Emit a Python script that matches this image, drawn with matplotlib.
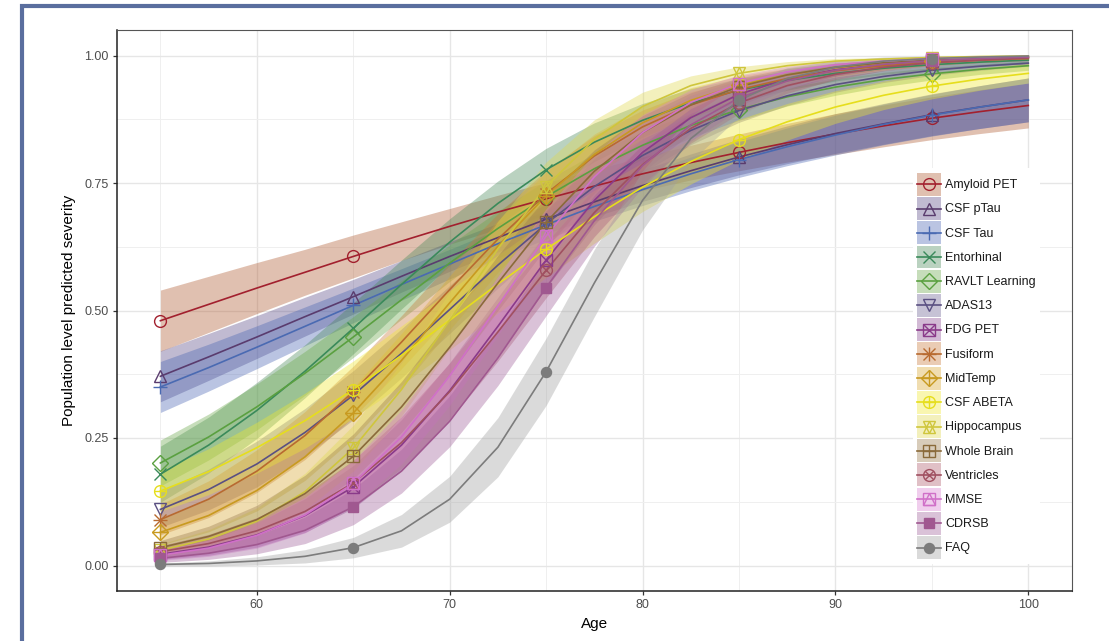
"""
plot.py -- population-level predicted severity of 16 biomarkers vs age,
with confidence ribbons (ggplot/theme_bw look).
"""
import numpy as np
import matplotlib
matplotlib.use("Agg")
import matplotlib.pyplot as plt
from matplotlib.lines import Line2D
from matplotlib.patches import Patch, Rectangle
from matplotlib.legend_handler import HandlerLine2D

plt.rcParams["font.family"] = ["Liberation Sans", "DejaVu Sans"]

W, H = 1109, 641

# ----------------------------------------------------------------------- data
AGES = [55, 57.5, 60, 62.5, 65, 67.5, 70, 72.5, 75, 77.5,
        80, 82.5, 85, 87.5, 90, 92.5, 95, 97.5, 100]
MARKER_AGES = [55, 65, 75, 85, 95]

BIOMARKERS = ["Amyloid PET", "CSF pTau", "CSF Tau", "Entorhinal", "RAVLT Learning",
              "ADAS13", "FDG PET", "Fusiform", "MidTemp", "CSF ABETA",
              "Hippocampus", "Whole Brain", "Ventricles", "MMSE", "CDRSB", "FAQ"]

SEVERITY = {
    "Amyloid PET":    [0.480, 0.512, 0.544, 0.575, 0.606, 0.636, 0.665, 0.693, 0.719, 0.744,
                       0.768, 0.790, 0.810, 0.829, 0.846, 0.862, 0.877, 0.890, 0.902],
    "CSF pTau":       [0.371, 0.409, 0.448, 0.488, 0.527, 0.567, 0.606, 0.643, 0.679, 0.713,
                       0.745, 0.774, 0.801, 0.825, 0.847, 0.866, 0.884, 0.899, 0.913],
    "CSF Tau":        [0.350, 0.388, 0.428, 0.469, 0.510, 0.551, 0.591, 0.631, 0.668, 0.704,
                       0.737, 0.768, 0.796, 0.821, 0.844, 0.865, 0.883, 0.899, 0.913],
    "Entorhinal":     [0.179, 0.236, 0.304, 0.381, 0.465, 0.551, 0.634, 0.710, 0.776, 0.830,
                       0.873, 0.907, 0.932, 0.951, 0.965, 0.975, 0.982, 0.987, 0.991],
    "RAVLT Learning": [0.201, 0.252, 0.311, 0.377, 0.448, 0.521, 0.593, 0.661, 0.723, 0.778,
                       0.824, 0.863, 0.894, 0.919, 0.938, 0.953, 0.964, 0.973, 0.980],
    "ADAS13":         [0.110, 0.149, 0.199, 0.261, 0.334, 0.416, 0.502, 0.589, 0.670, 0.743,
                       0.804, 0.853, 0.892, 0.921, 0.943, 0.959, 0.971, 0.979, 0.985],
    "FDG PET":        [0.022, 0.036, 0.060, 0.098, 0.154, 0.236, 0.343, 0.469, 0.599, 0.716,
                       0.810, 0.878, 0.924, 0.954, 0.972, 0.983, 0.990, 0.994, 0.996],
    "Fusiform":       [0.090, 0.130, 0.185, 0.255, 0.341, 0.438, 0.541, 0.640, 0.729, 0.803,
                       0.860, 0.903, 0.933, 0.955, 0.970, 0.980, 0.986, 0.991, 0.994],
    "MidTemp":        [0.065, 0.098, 0.147, 0.213, 0.299, 0.402, 0.515, 0.626, 0.725, 0.806,
                       0.868, 0.912, 0.942, 0.962, 0.976, 0.985, 0.990, 0.994, 0.996],
    "CSF ABETA":      [0.146, 0.184, 0.231, 0.284, 0.345, 0.412, 0.481, 0.552, 0.620, 0.684,
                       0.742, 0.792, 0.835, 0.870, 0.899, 0.922, 0.940, 0.954, 0.965],
    "Hippocampus":    [0.030, 0.052, 0.087, 0.145, 0.230, 0.345, 0.481, 0.621, 0.743, 0.836,
                       0.900, 0.941, 0.965, 0.980, 0.989, 0.993, 0.996, 0.998, 0.999],
    "Whole Brain":    [0.035, 0.057, 0.090, 0.141, 0.214, 0.311, 0.428, 0.554, 0.673, 0.773,
                       0.849, 0.903, 0.939, 0.962, 0.977, 0.986, 0.991, 0.995, 0.997],
    "Ventricles":     [0.027, 0.043, 0.068, 0.106, 0.162, 0.241, 0.341, 0.458, 0.579, 0.692,
                       0.786, 0.857, 0.907, 0.941, 0.963, 0.977, 0.986, 0.991, 0.995],
    "MMSE":           [0.020, 0.034, 0.059, 0.099, 0.161, 0.252, 0.372, 0.509, 0.646, 0.762,
                       0.849, 0.908, 0.945, 0.968, 0.982, 0.989, 0.994, 0.996, 0.998],
    "CDRSB":          [0.014, 0.024, 0.041, 0.069, 0.115, 0.185, 0.283, 0.407, 0.545, 0.676,
                       0.784, 0.864, 0.917, 0.950, 0.971, 0.983, 0.990, 0.994, 0.997],
    "FAQ":            [0.002, 0.004, 0.009, 0.018, 0.035, 0.068, 0.130, 0.232, 0.380, 0.554,
                       0.716, 0.837, 0.912, 0.955, 0.977, 0.989, 0.994, 0.997, 0.999],
}

# half-width of the confidence ribbon at each age
HALF_WIDTH = {
    "Amyloid PET":    [0.060, 0.055, 0.050, 0.045, 0.042, 0.038, 0.035, 0.033, 0.032, 0.032,
                       0.033, 0.034, 0.036, 0.038, 0.040, 0.041, 0.042, 0.043, 0.044],
    "CSF pTau":       [0.050, 0.046, 0.042, 0.038, 0.034, 0.031, 0.029, 0.028, 0.028, 0.029,
                       0.031, 0.033, 0.035, 0.037, 0.039, 0.040, 0.041, 0.042, 0.043],
    "CSF Tau":        [0.050, 0.046, 0.042, 0.038, 0.034, 0.031, 0.029, 0.028, 0.028, 0.029,
                       0.031, 0.033, 0.035, 0.037, 0.039, 0.040, 0.041, 0.042, 0.043],
    "Entorhinal":     [0.055, 0.055, 0.055, 0.052, 0.050, 0.048, 0.046, 0.044, 0.042, 0.038,
                       0.033, 0.028, 0.023, 0.019, 0.015, 0.012, 0.010, 0.008, 0.007],
    "RAVLT Learning": [0.045, 0.045, 0.045, 0.043, 0.040, 0.038, 0.036, 0.034, 0.032, 0.030,
                       0.027, 0.024, 0.021, 0.018, 0.016, 0.014, 0.012, 0.010, 0.009],
    "ADAS13":         [0.035, 0.040, 0.045, 0.047, 0.048, 0.048, 0.047, 0.045, 0.042, 0.038,
                       0.033, 0.028, 0.023, 0.019, 0.015, 0.012, 0.010, 0.008, 0.006],
    "FDG PET":        [0.010, 0.016, 0.024, 0.033, 0.042, 0.050, 0.055, 0.057, 0.055, 0.048,
                       0.039, 0.030, 0.022, 0.015, 0.010, 0.007, 0.005, 0.003, 0.002],
    "Fusiform":       [0.030, 0.036, 0.042, 0.047, 0.050, 0.052, 0.052, 0.050, 0.046, 0.040,
                       0.033, 0.026, 0.020, 0.015, 0.011, 0.008, 0.006, 0.005, 0.004],
    "MidTemp":        [0.025, 0.032, 0.040, 0.046, 0.050, 0.053, 0.053, 0.051, 0.047, 0.040,
                       0.032, 0.025, 0.018, 0.013, 0.009, 0.007, 0.005, 0.004, 0.003],
    "CSF ABETA":      [0.040, 0.045, 0.050, 0.054, 0.056, 0.058, 0.058, 0.057, 0.055, 0.052,
                       0.048, 0.044, 0.040, 0.036, 0.032, 0.028, 0.025, 0.022, 0.019],
    "Hippocampus":    [0.012, 0.018, 0.026, 0.036, 0.045, 0.052, 0.055, 0.054, 0.048, 0.038,
                       0.028, 0.019, 0.013, 0.008, 0.005, 0.003, 0.002, 0.001, 0.001],
    "Whole Brain":    [0.014, 0.020, 0.028, 0.036, 0.044, 0.050, 0.054, 0.054, 0.050, 0.042,
                       0.033, 0.024, 0.017, 0.012, 0.008, 0.005, 0.003, 0.002, 0.002],
    "Ventricles":     [0.012, 0.018, 0.026, 0.035, 0.044, 0.051, 0.056, 0.057, 0.054, 0.047,
                       0.038, 0.029, 0.021, 0.015, 0.010, 0.007, 0.005, 0.003, 0.002],
    "MMSE":           [0.010, 0.016, 0.025, 0.035, 0.045, 0.053, 0.058, 0.058, 0.054, 0.045,
                       0.035, 0.025, 0.017, 0.011, 0.007, 0.005, 0.003, 0.002, 0.001],
    "CDRSB":          [0.008, 0.012, 0.018, 0.026, 0.035, 0.043, 0.050, 0.054, 0.055, 0.050,
                       0.042, 0.032, 0.023, 0.016, 0.011, 0.007, 0.005, 0.003, 0.002],
    "FAQ":            [0.003, 0.005, 0.008, 0.013, 0.020, 0.032, 0.045, 0.058, 0.066, 0.066,
                       0.058, 0.045, 0.032, 0.021, 0.013, 0.008, 0.005, 0.003, 0.002],
}

# ----------------------------------------------------------------------- style
LINE_COL = {
    "Amyloid PET": "#a2202e", "CSF pTau": "#5a3c6e", "CSF Tau": "#4a6ab2",
    "Entorhinal": "#3a8a5a", "RAVLT Learning": "#5aa040", "ADAS13": "#5a5082",
    "FDG PET": "#8a3a8a", "Fusiform": "#b86a30", "MidTemp": "#c89a20",
    "CSF ABETA": "#e6de1c", "Hippocampus": "#cfc63c", "Whole Brain": "#8a6a3a",
    "Ventricles": "#a05060", "MMSE": "#d070c8", "CDRSB": "#a05890", "FAQ": "#7c7c7c",
}
FILL_COL = {
    "Amyloid PET": "#b05a30", "CSF pTau": "#5a4a86", "CSF Tau": "#4a66b4",
    "Entorhinal": "#4a8a5a", "RAVLT Learning": "#6aa84a", "ADAS13": "#6a6092",
    "FDG PET": "#8a4a92", "Fusiform": "#c87a3a", "MidTemp": "#d8a830",
    "CSF ABETA": "#f0e830", "Hippocampus": "#e0d850", "Whole Brain": "#9a7a4a",
    "Ventricles": "#b05a6a", "MMSE": "#d880d0", "CDRSB": "#a0609a", "FAQ": "#a0a0a0",
}
FILL_ALPHA = 0.38
MS = 8.5
# ggplot shapes 1..16 built from overlaid matplotlib markers: (marker, filled, size scale)
SHAPES = {
    "Amyloid PET":    [("o", False, 1.0)],
    "CSF pTau":       [("^", False, 1.1)],
    "CSF Tau":        [("+", False, 1.2)],
    "Entorhinal":     [("x", False, 1.0)],
    "RAVLT Learning": [("D", False, 0.95)],
    "ADAS13":         [("v", False, 1.1)],
    "FDG PET":        [("s", False, 0.95), ("x", False, 0.95)],
    "Fusiform":       [("+", False, 1.2), ("x", False, 1.0)],
    "MidTemp":        [("D", False, 0.95), ("+", False, 1.3)],
    "CSF ABETA":      [("o", False, 1.0), ("+", False, 1.0)],
    "Hippocampus":    [("^", False, 1.0), ("v", False, 1.0)],
    "Whole Brain":    [("s", False, 0.95), ("+", False, 0.95)],
    "Ventricles":     [("o", False, 1.0), ("x", False, 0.75)],
    "MMSE":           [("s", False, 0.95), ("^", False, 0.95)],
    "CDRSB":          [("s", True, 0.9)],
    "FAQ":            [("o", True, 0.85)],
}


def marker_kw(name, mk, filled, scale):
    col = LINE_COL[name]
    return dict(marker=mk, markersize=MS * scale, markeredgewidth=1.0,
                markeredgecolor=col, markerfacecolor=col if filled else "none")


class CentredLine(HandlerLine2D):
    """Legend line/marker sitting in the middle of the key box (like ggplot keys)."""
    def create_artists(self, legend, orig_handle, xdescent, ydescent, width, height,
                       fontsize, trans):
        arts = super().create_artists(legend, orig_handle, xdescent, ydescent, width,
                                      height, fontsize, trans)
        for a in arts:
            a.set_ydata(np.asarray(a.get_ydata()) - ydescent / 2)
        return arts


fig = plt.figure(figsize=(W / 100, H / 100), dpi=100)
ax = fig.add_axes([117 / W, 1 - 591 / H, (1071.7 - 117) / W, (591 - 30) / H])

mark_idx = [AGES.index(a) for a in MARKER_AGES]

for name in BIOMARKERS:
    y = SEVERITY[name]
    hw = HALF_WIDTH[name]
    lo = [v - h for v, h in zip(y, hw)]
    hi = [v + h for v, h in zip(y, hw)]
    ax.fill_between(AGES, lo, hi, color=FILL_COL[name], alpha=FILL_ALPHA, lw=0, zorder=2)

for name in BIOMARKERS:
    ax.plot(AGES, SEVERITY[name], color=LINE_COL[name], lw=1.2, zorder=3)
    for mk, filled, scale in SHAPES[name]:
        ax.plot([AGES[i] for i in mark_idx], [SEVERITY[name][i] for i in mark_idx],
                ls="none", zorder=4, **marker_kw(name, mk, filled, scale))

# axes look (theme_bw)
ax.set_xlim(52.75, 102.25)
ax.set_ylim(-0.05, 1.05)
ax.set_xticks([60, 70, 80, 90, 100])
ax.set_xticks([55, 65, 75, 85, 95], minor=True)
ax.set_yticks([0, 0.25, 0.5, 0.75, 1.0])
ax.set_yticklabels(["0.00", "0.25", "0.50", "0.75", "1.00"])
ax.set_yticks([0.125, 0.375, 0.625, 0.875], minor=True)
ax.grid(which="major", color="#e6e6e6", lw=1.0, zorder=0)
ax.grid(which="minor", color="#efefef", lw=0.7, zorder=0)
ax.set_axisbelow(True)
ax.tick_params(which="major", direction="out", length=3, width=0.9, color="#333333",
               labelsize=9, labelcolor="#4d4d4d", pad=3)
ax.tick_params(which="minor", length=0)
for side in ("top", "right"):
    ax.spines[side].set_color("#555555")
    ax.spines[side].set_linewidth(0.8)
for side in ("left", "bottom"):
    ax.spines[side].set_color("#222222")
    ax.spines[side].set_linewidth(1.1)
ax.set_xlabel("Age", fontsize=11, labelpad=4)
ax.set_ylabel("Population level predicted severity", fontsize=11, labelpad=6)

# legend: fill key + line + overlaid markers
handles = []
for name in BIOMARKERS:
    parts = [Patch(facecolor=FILL_COL[name], alpha=FILL_ALPHA, edgecolor="none")]
    for j, (mk, filled, scale) in enumerate(SHAPES[name]):
        kw = marker_kw(name, mk, filled, scale)
        parts.append(Line2D([], [], color=LINE_COL[name], lw=1.2 if j == 0 else 0, **kw))
    handles.append(tuple(parts))
leg = ax.legend(handles, BIOMARKERS, loc="upper left",
                bbox_to_anchor=(912.5 / W, 1 - 168.5 / H), bbox_transform=fig.transFigure,
                handler_map={Line2D: CentredLine()},
                fontsize=9, frameon=True, fancybox=False, facecolor="white",
                edgecolor="none", framealpha=1, borderpad=0.35, borderaxespad=0,
                handlelength=1.92, handleheight=2.45, labelspacing=0.1,
                handletextpad=0.35)
leg.set_zorder(6)
for t in leg.get_texts():
    t.set_color("#1a1a1a")

# blue frame round the picture (cropped on right and bottom)
fig.add_artist(Rectangle((22 / W, -0.3), 2.0, 0.3 + 1 - 6.5 / H, transform=fig.transFigure,
                         fill=False, ec="#5a6e9e", lw=3, clip_on=False))

fig.savefig("out.png", dpi=100)
